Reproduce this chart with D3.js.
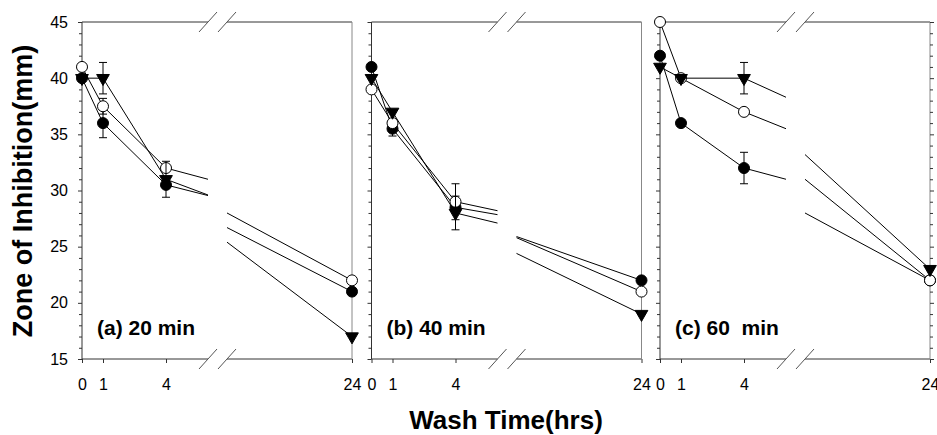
<!DOCTYPE html>
<html>
<head>
<meta charset="utf-8">
<script src="https://cdn.jsdelivr.net/npm/d3@7"></script>
<style>
  body { margin: 0; background: #fff; }
  svg { display: block; }
  text { font-family: "Liberation Sans", Arial, Helvetica, sans-serif; fill: #000; }
</style>
</head>
<body>
<svg id="chart" width="937" height="435"></svg>
<script>
// Wash time (hours) at which each zone of inhibition was measured
const hours = [0, 1, 4, 24];
const xTicksLeft = [0, 1, 4];
const xTicksRight = [24];
const yMajorTicks = [15, 20, 25, 30, 35, 40, 45];
const panelTitles = ["(a) 20 min", "(b) 40 min", "(c) 60  min"];

// Zone of inhibition (mm), one row per panel
const filledCircle = [[40, 36, 30.5, 21], [41, 35.5, 28.5, 22], [42, 36, 32, 22]];
const openCircle   = [[41, 37.5, 32, 22], [39, 36, 29, 21], [45, 40, 37, 22]];
const triangleDown = [[40, 40, 31, 17], [40, 37, 28, 19], [41, 40, 40, 23]];

// Error bar half-lengths (mm); 0 = no bar drawn
const filledErr   = [[0, 1.3, 0, 0], [0, 0.65, 0, 0], [0, 0, 1.4, 0]];
const openErr     = [[0, 0.7, 0, 0], [0, 0, 1.6, 0], [0, 0, 0, 0]];
const triangleErr = [[0, 1.4, 1.6, 0], [0, 0, 1.5, 0], [0, 0, 1.4, 0]];

const svg = d3.select("#chart");
const plotTop = 22, plotBottom = 359;
const panelLefts = [82, 371.5, 660];
const panelWidth = 270;
const seg1End = 126, seg2Start = 145;   // broken x axis: 0–6 h, then 12–24 h
const axisDark = "#333", axisLight = "#888";

const y = d3.scaleLinear().domain([15, 45]).range([plotBottom, plotTop]);
const minorY = d3.range(15, 46).filter(v => v % 5 !== 0);

const series = [
  { vals: filledCircle, errs: filledErr, kind: "filled" },
  { vals: openCircle, errs: openErr, kind: "open" },
  { vals: triangleDown, errs: triangleErr, kind: "tri" }
];

panelTitles.forEach((title, p) => {
  const L = panelLefts[p];
  const x1 = d3.scaleLinear().domain([0, 6]).range([L, L + seg1End]);
  const x2 = d3.scaleLinear().domain([12, 24]).range([L + seg2Start, L + panelWidth]);
  const g = svg.append("g");

  // clip regions for each side of the break
  const c1 = "clipA" + p, c2 = "clipB" + p;
  const defs = svg.append("defs");
  defs.append("clipPath").attr("id", c1).append("rect")
    .attr("x", L - 10).attr("y", 0).attr("width", seg1End + 10).attr("height", 435);
  defs.append("clipPath").attr("id", c2).append("rect")
    .attr("x", L + seg2Start).attr("y", 0).attr("width", panelWidth - seg2Start + 10).attr("height", 435);

  // frame: top and bottom lines interrupted at the break
  [plotTop, plotBottom].forEach(yy => {
    g.append("line").attr("x1", L).attr("x2", L + seg1End).attr("y1", yy).attr("y2", yy)
      .attr("stroke", axisDark).attr("stroke-width", 1);
    g.append("line").attr("x1", L + seg2Start).attr("x2", L + panelWidth).attr("y1", yy).attr("y2", yy)
      .attr("stroke", axisDark).attr("stroke-width", 1);
    [seg1End, seg2Start].forEach(bx => {
      g.append("line")
        .attr("x1", L + bx - 9).attr("y1", yy + 10)
        .attr("x2", L + bx + 9).attr("y2", yy - 10)
        .attr("stroke", "#555").attr("stroke-width", 1);
    });
  });

  // left y axis
  g.append("line").attr("x1", L).attr("x2", L).attr("y1", plotTop).attr("y2", plotBottom)
    .attr("stroke", axisDark);
  const leftMajor = d3.axisLeft(y).tickValues(yMajorTicks).tickSize(4).tickSizeOuter(0).tickPadding(10);
  if (p !== 0) leftMajor.tickFormat("");
  g.append("g").attr("transform", `translate(${L},0)`).call(leftMajor);
  g.append("g").attr("transform", `translate(${L},0)`)
    .call(d3.axisLeft(y).tickValues(minorY).tickSize(3).tickFormat(""));

  // right edge
  g.append("line").attr("x1", L + panelWidth).attr("x2", L + panelWidth)
    .attr("y1", plotTop).attr("y2", plotBottom).attr("stroke", axisLight);
  if (p === 2) {
    g.append("g").attr("transform", `translate(${L + panelWidth},0)`)
      .call(d3.axisRight(y).tickValues(yMajorTicks).tickSize(4).tickFormat(""));
    g.append("g").attr("transform", `translate(${L + panelWidth},0)`)
      .call(d3.axisRight(y).tickValues(minorY).tickSize(3).tickFormat(""));
  }

  // x axis ticks
  g.append("g").attr("transform", `translate(0,${plotBottom})`)
    .call(d3.axisBottom(x1).tickValues(xTicksLeft).tickSize(4).tickPadding(15.5).tickFormat(d3.format("d")));
  g.append("g").attr("transform", `translate(0,${plotBottom})`)
    .call(d3.axisBottom(x2).tickValues(xTicksRight).tickSize(4).tickPadding(15.5).tickFormat(d3.format("d")));

  g.selectAll(".domain").remove();
  g.selectAll(".tick line").attr("stroke", axisDark);
  g.selectAll(".tick text").attr("font-size", 16).attr("fill", "#000")
    .style("font-family", '"Liberation Sans", Arial, sans-serif');

  // series: lines on each side of the break, error bars, markers
  series.forEach(s => {
    const vals = s.vals[p], errs = s.errs[p];
    const pts = hours.map((h, i) => ({ h, v: vals[i], e: errs[i] }));
    const lineL = d3.line().x(d => x1(d.h)).y(d => y(d.v));
    const lineR = d3.line().x(d => x2(d.h)).y(d => y(d.v));
    g.append("path").attr("d", lineL(pts)).attr("fill", "none").attr("stroke", "#000")
      .attr("stroke-width", 1).attr("clip-path", `url(#${c1})`);
    g.append("path").attr("d", lineR(pts.slice(2))).attr("fill", "none").attr("stroke", "#000")
      .attr("stroke-width", 1).attr("clip-path", `url(#${c2})`);

    const xOf = h => (h <= 6 ? x1(h) : x2(h));
    pts.filter(d => d.e > 0).forEach(d => {
      const cx = xOf(d.h);
      g.append("line").attr("x1", cx).attr("x2", cx).attr("y1", y(d.v - d.e)).attr("y2", y(d.v + d.e))
        .attr("stroke", "#000");
      [d.v - d.e, d.v + d.e].forEach(vv => {
        g.append("line").attr("x1", cx - 4).attr("x2", cx + 4).attr("y1", y(vv)).attr("y2", y(vv))
          .attr("stroke", "#000");
      });
    });

    pts.forEach(d => {
      const cx = xOf(d.h), cy = y(d.v);
      if (s.kind === "tri") {
        g.append("path")
          .attr("d", d3.symbol().type(d3.symbolTriangle).size(70)())
          .attr("transform", `translate(${cx},${cy}) rotate(180)`)
          .attr("fill", "#000").attr("stroke", "#000");
      } else {
        g.append("circle").attr("cx", cx).attr("cy", cy).attr("r", 5.5)
          .attr("fill", s.kind === "filled" ? "#000" : "#fff").attr("stroke", "#000");
      }
    });
  });

  // panel label
  g.append("text").attr("x", L + 15).attr("y", 335)
    .attr("font-size", 21).attr("font-weight", "bold")
    .style("white-space", "pre")
    .text(title);
});

// axis titles
svg.append("text")
  .attr("transform", "translate(32,191) rotate(-90)")
  .attr("text-anchor", "middle").attr("font-size", 27).attr("font-weight", "bold")
  .text("Zone of Inhibition(mm)");
svg.append("text")
  .attr("x", 506).attr("y", 429)
  .attr("text-anchor", "middle").attr("font-size", 26).attr("font-weight", "bold")
  .text("Wash Time(hrs)");
</script>
</body>
</html>
